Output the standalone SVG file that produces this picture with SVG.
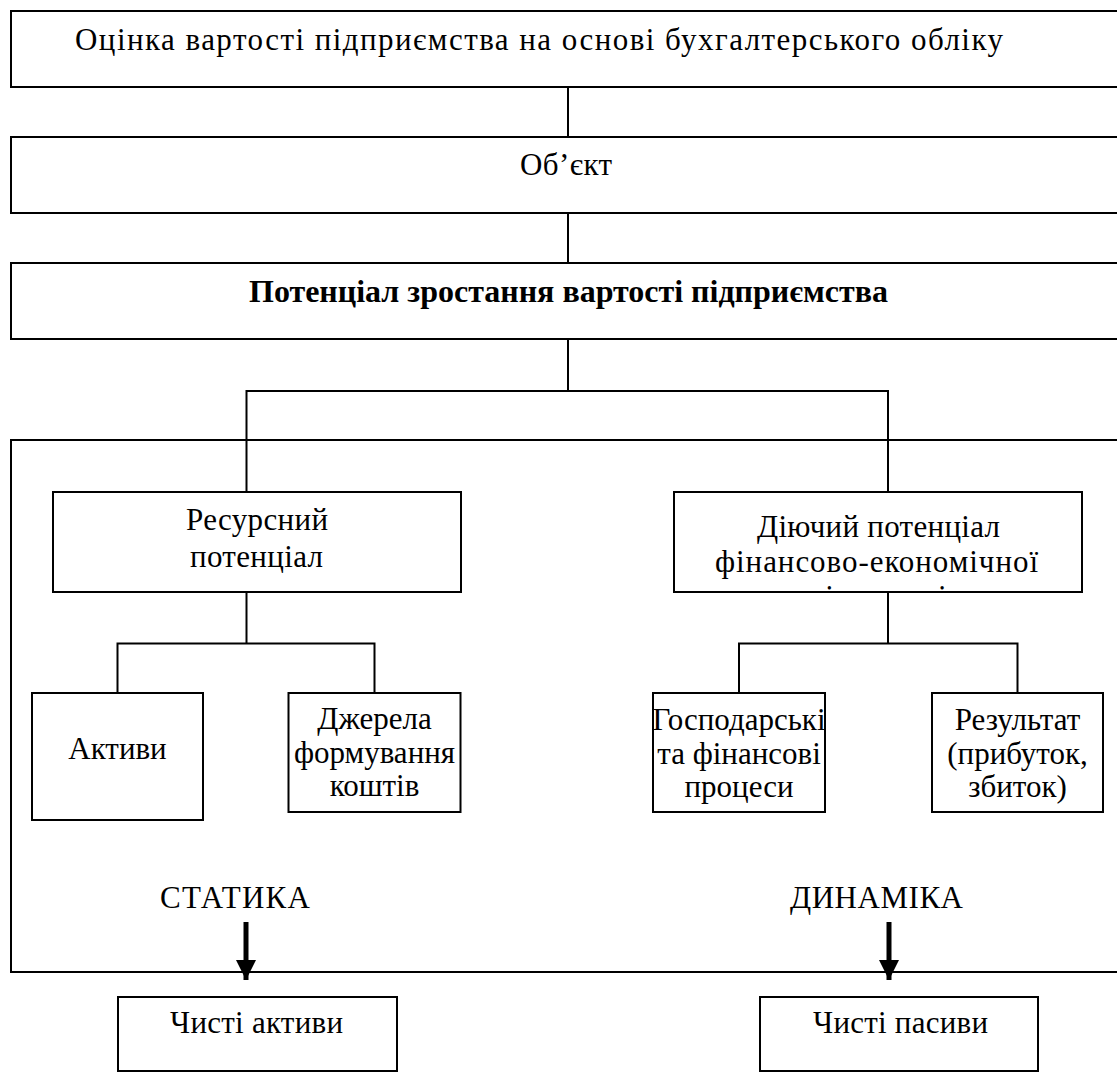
<svg xmlns="http://www.w3.org/2000/svg" width="1117" height="1072" viewBox="0 0 1117 1072">
<style>
.box{fill:#fff;stroke:#000;stroke-width:2}
.frame{fill:none;stroke:#000;stroke-width:2}
.ln{fill:none;stroke:#000;stroke-width:2}
.t{font-family:'Liberation Serif','Times New Roman',serif;font-size:31px;fill:#000;text-anchor:middle}
.b{font-weight:bold;font-size:32px}
</style>
<defs>
<marker id="ah" markerWidth="4" markerHeight="4" refX="4" refY="2" orient="auto" markerUnits="strokeWidth"><path d="M0,0 L4,2 L0,4 Z" fill="#000"/></marker>
<clipPath id="clipD"><rect x="675" y="493" width="406" height="98"/></clipPath>
</defs>
<rect width="1117" height="1072" fill="#fff"/>
<g id="connectors">
<line class="ln" x1="568" y1="87" x2="568" y2="137"/>
<line class="ln" x1="568" y1="213" x2="568" y2="263"/>
<line class="ln" x1="568" y1="339" x2="568" y2="391"/>
<polyline class="ln" points="246.5,492 246.5,391 888,391 888,492"/>
<polyline class="ln" points="117.5,693 117.5,643.5 374.5,643.5 374.5,693"/>
<line class="ln" x1="246.5" y1="592" x2="246.5" y2="643.5"/>
<polyline class="ln" points="739,693 739,643.5 1017.5,643.5 1017.5,693"/>
<line class="ln" x1="888" y1="592" x2="888" y2="643.5"/>
<line x1="246" y1="922" x2="246" y2="980" stroke="#000" stroke-width="5" marker-end="url(#ah)"/>
<line x1="889" y1="922" x2="889" y2="980" stroke="#000" stroke-width="5" marker-end="url(#ah)"/>
</g>
<g id="frame-outer">
<rect class="frame" x="11" y="440" width="1130" height="532"/>
<text class="t" x="235" y="908" textLength="150" lengthAdjust="spacing">СТАТИКА</text>
<text class="t" x="876.5" y="908" textLength="173" lengthAdjust="spacing">ДИНАМІКА</text>
</g>
<g id="n-title">
<rect class="box" x="11" y="11" width="1130" height="76"/>
<text class="t" x="539" y="50" font-size="33" textLength="928" lengthAdjust="spacing">Оцінка вартості підприємства на основі бухгалтерського обліку</text>
</g>
<g id="n-object">
<rect class="box" x="11" y="137" width="1130" height="76"/>
<text class="t" x="566" y="175" textLength="92" lengthAdjust="spacing">Об’єкт</text>
</g>
<g id="n-potential">
<rect class="box" x="11" y="263" width="1130" height="76"/>
<text class="t b" x="568.5" y="302" textLength="639" lengthAdjust="spacing">Потенціал зростання вартості підприємства</text>
</g>
<g id="n-resource">
<rect class="box" x="53" y="492" width="408" height="100"/>
<text class="t" x="257" y="530" textLength="142" lengthAdjust="spacing">Ресурсний</text>
<text class="t" x="256.5" y="567" textLength="133" lengthAdjust="spacing">потенціал</text>
</g>
<g id="n-acting">
<rect class="box" x="674" y="492" width="408" height="100"/>
<text class="t" x="878.5" y="537" textLength="243" lengthAdjust="spacing">Діючий потенціал</text>
<text class="t" x="876.5" y="572" textLength="323" lengthAdjust="spacing">фінансово-економічної</text>
<text class="t" x="878" y="607" clip-path="url(#clipD)">діяльності</text>
</g>
<g id="n-assets">
<rect class="box" x="32" y="693" width="171" height="127"/>
<text class="t" x="117.5" y="759">Активи</text>
</g>
<g id="n-sources">
<rect class="box" x="288.5" y="693" width="172" height="119"/>
<text class="t" x="374.5" y="729">Джерела</text>
<text class="t" x="374.5" y="762.5">формування</text>
<text class="t" x="374.5" y="796">коштів</text>
</g>
<g id="n-processes">
<rect class="box" x="653" y="693" width="172" height="119"/>
<text class="t" x="739" y="730">Господарські</text>
<text class="t" x="739" y="763.5">та фінансові</text>
<text class="t" x="739" y="797">процеси</text>
</g>
<g id="n-result">
<rect class="box" x="932" y="693" width="171" height="119"/>
<text class="t" x="1017.5" y="730">Результат</text>
<text class="t" x="1017.5" y="763.5">(прибуток,</text>
<text class="t" x="1017.5" y="797">збиток)</text>
</g>
<g id="n-net-assets">
<rect class="box" x="118" y="997" width="279" height="74"/>
<text class="t" x="256.5" y="1033" textLength="173" lengthAdjust="spacing">Чисті активи</text>
</g>
<g id="n-net-liab">
<rect class="box" x="760" y="997" width="278" height="74"/>
<text class="t" x="900.5" y="1033" textLength="175" lengthAdjust="spacing">Чисті пасиви</text>
</g>
</svg>
